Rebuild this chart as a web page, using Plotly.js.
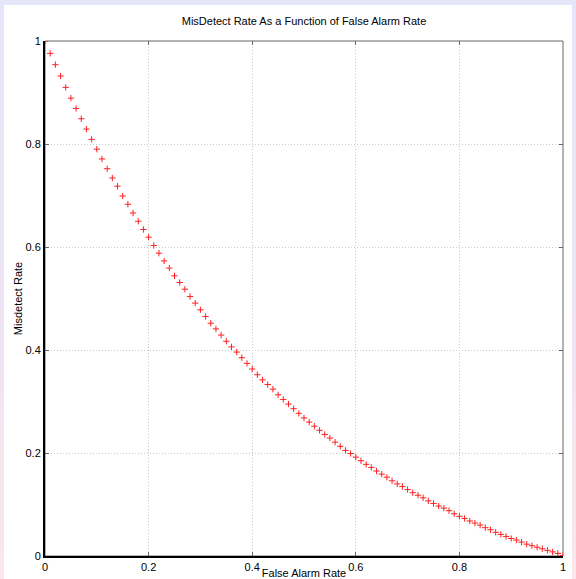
<!DOCTYPE html>
<html>
<head>
<meta charset="utf-8">
<script src="https://cdn.plot.ly/plotly-3.0.1.min.js"></script>
<style>
  html, body { margin: 0; padding: 0; width: 576px; height: 579px; overflow: hidden;
    background: linear-gradient(to bottom, #e6e6fa 0%, #ece4f4 50%, #fbe6ec 100%); }
  #chart { position: absolute; left: 4px; top: 5px; width: 568px; height: 574px; background: #fff; }
</style>
</head>
<body>
<div id="chart"></div>
<script>
// False alarm rate (x) and misdetect rate (y)
const falseAlarmRate = [
  0.00,
  0.01,0.02,0.03,0.04,0.05,0.06,0.07,0.08,0.09,0.10,
  0.11,0.12,0.13,0.14,0.15,0.16,0.17,0.18,0.19,0.20,
  0.21,0.22,0.23,0.24,0.25,0.26,0.27,0.28,0.29,0.30,
  0.31,0.32,0.33,0.34,0.35,0.36,0.37,0.38,0.39,0.40,
  0.41,0.42,0.43,0.44,0.45,0.46,0.47,0.48,0.49,0.50,
  0.51,0.52,0.53,0.54,0.55,0.56,0.57,0.58,0.59,0.60,
  0.61,0.62,0.63,0.64,0.65,0.66,0.67,0.68,0.69,0.70,
  0.71,0.72,0.73,0.74,0.75,0.76,0.77,0.78,0.79,0.80,
  0.81,0.82,0.83,0.84,0.85,0.86,0.87,0.88,0.89,0.90,
  0.91,0.92,0.93,0.94,0.95,0.96,0.97,0.98,0.99,1.00
];
const misdetectRate = [
  1.000,
  0.976,0.954,0.932,0.910,0.889,0.869,0.849,0.829,0.809,0.790,
  0.771,0.752,0.734,0.718,0.699,0.683,0.666,0.650,0.634,0.619,
  0.603,0.588,0.573,0.559,0.544,0.531,0.518,0.504,0.491,0.478,
  0.465,0.452,0.441,0.429,0.417,0.406,0.396,0.385,0.374,0.363,
  0.352,0.342,0.333,0.324,0.313,0.304,0.295,0.286,0.277,0.268,
  0.260,0.252,0.244,0.236,0.229,0.221,0.213,0.205,0.199,0.192,
  0.185,0.178,0.172,0.165,0.159,0.153,0.146,0.140,0.135,0.129,
  0.123,0.118,0.113,0.107,0.102,0.097,0.093,0.088,0.082,0.077,
  0.073,0.068,0.064,0.060,0.055,0.051,0.046,0.042,0.038,0.034,
  0.031,0.027,0.023,0.020,0.017,0.014,0.011,0.008,0.005,0.001
];
const tickVals = [0, 0.2, 0.4, 0.6, 0.8, 1];
const tickText = ["0", "0.2", "0.4", "0.6", "0.8", "1"];

const FONT = "Liberation Sans, Arial, sans-serif";

const trace = {
  x: falseAlarmRate,
  y: misdetectRate,
  type: "scatter",
  mode: "markers",
  marker: { symbol: "cross-thin", size: 4.5, color: "#ff0000", line: { color: "#ff2020", width: 1 } },
  showlegend: false,
  hoverinfo: "x+y"
};

const axisCommon = {
  range: [0, 1],
  tickmode: "array",
  tickvals: tickVals,
  ticktext: tickText,
  ticks: "inside",
  ticklen: 4,
  tickcolor: "#666",
  showline: true,
  linecolor: "#000",
  linewidth: 2,
  mirror: false,
  showgrid: true,
  gridcolor: "#c8c8c8",
  griddash: "1px,2px",
  gridwidth: 1,
  zeroline: false,
  tickfont: { family: FONT, size: 11, color: "#000" },
  fixedrange: true
};

const layout = {
  width: 568,
  height: 574,
  margin: { l: 41, r: 9, t: 36, b: 23 },
  paper_bgcolor: "#ffffff",
  plot_bgcolor: "#ffffff",
  font: { family: FONT, size: 11, color: "#000" },
  title: {
    text: "MisDetect Rate As a Function of False Alarm Rate",
    font: { family: FONT, size: 11, color: "#000" },
    xref: "paper", x: 0.5, xanchor: "center",
    yref: "container", y: 0.972, yanchor: "middle"
  },
  xaxis: Object.assign({}, axisCommon, {
    title: { text: "False Alarm Rate", font: { family: FONT, size: 11, color: "#000" }, standoff: 0 },
    automargin: false
  }),
  yaxis: Object.assign({}, axisCommon, {
    title: { text: "Misdetect Rate", font: { family: FONT, size: 11, color: "#000" }, standoff: 1 },
    automargin: false
  }),
  xaxis2: {
    overlaying: "x", matches: "x", side: "top", range: [0, 1],
    tickmode: "array", tickvals: tickVals, ticks: "inside", ticklen: 4, tickcolor: "#666",
    showticklabels: false, showgrid: false, showline: false, zeroline: false, fixedrange: true
  },
  yaxis2: {
    overlaying: "y", matches: "y", side: "right", range: [0, 1],
    tickmode: "array", tickvals: tickVals, ticks: "inside", ticklen: 4, tickcolor: "#666",
    showticklabels: false, showgrid: false, showline: false, zeroline: false, fixedrange: true
  },
  shapes: [{
    type: "rect", xref: "paper", yref: "paper", x0: 0, x1: 1, y0: 0, y1: 1,
    line: { color: "#666", width: 1 }, layer: "below"
  }]
};

const helper = { x: [0], y: [0], xaxis: "x2", yaxis: "y2", type: "scatter", mode: "markers",
  marker: { opacity: 0 }, showlegend: false, hoverinfo: "skip" };

Plotly.newPlot("chart", [trace, helper], layout, { displayModeBar: false, staticPlot: true });
</script>
</body>
</html>
